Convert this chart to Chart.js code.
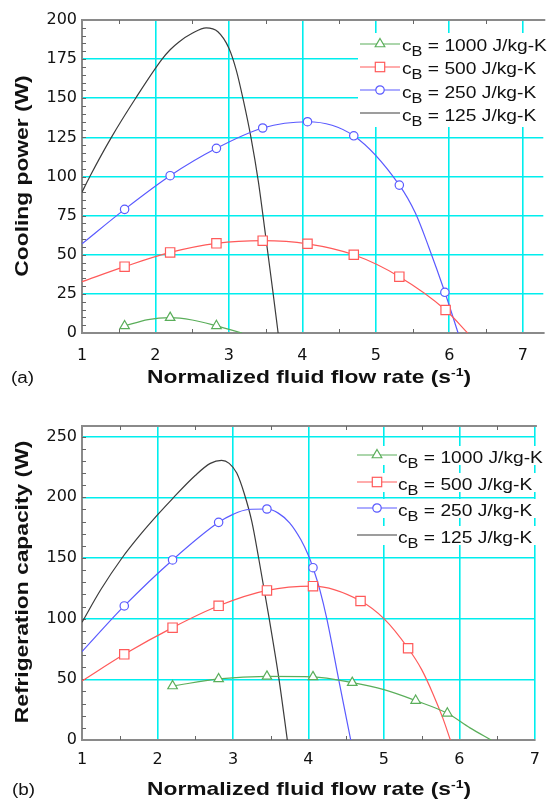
<!DOCTYPE html>
<html>
<head>
<meta charset="utf-8">
<title>Cooling power / refrigeration capacity</title>
<script src="https://cdn.jsdelivr.net/npm/chart.js@4.4.1/dist/chart.umd.min.js"></script>
<style>
body{margin:0;background:#fff;}
#page{position:relative;width:550px;height:800px;overflow:hidden;background:#fff;font-family:"Liberation Sans",Arial,sans-serif;color:#111;}
#page canvas{position:absolute;left:0;}
.xt{position:absolute;font-weight:bold;font-size:19px;line-height:1;white-space:nowrap;transform-origin:0 0;transform:scaleX(1.2);}
.xt sup{font-size:0.62em;vertical-align:0.6em;line-height:0;}
.yt{position:absolute;font-weight:bold;font-size:19px;line-height:1;white-space:nowrap;transform:translate(-50%,-50%) rotate(-90deg) scaleX(1.2);}
.lg{position:absolute;font-size:16.3px;line-height:1;white-space:nowrap;transform-origin:0 0;transform:scaleX(1.18);}
.lg sub{font-size:0.85em;vertical-align:-0.35em;line-height:0;}
.lab{position:absolute;font-size:16px;line-height:1;white-space:nowrap;transform-origin:0 0;transform:scaleX(1.18);}
.box{position:absolute;background:#fff;}
.smp{position:absolute;}
</style>
</head>
<body>
<div id="page">
	<canvas id="chartA" width="550" height="365" style="top:0"></canvas>
	<canvas id="chartB" width="550" height="380" style="top:400px"></canvas>
</div>
<script>
// values

// (a) cooling power (W) vs normalized flow rate
var a_x1000 = [1.58, 1.9, 2.2, 2.5, 2.83, 3.18];
var a_y1000 = [4.5, 8.6, 9.8, 8.3, 4.6, 0];
var a_mk1000 = [0, 2, 4];

var a_x500 = [1, 1.58, 2.2, 2.83, 3.46, 4.07, 4.7, 5.32, 5.95, 6.25];
var a_y500 = [32.8, 42.4, 51.5, 57.3, 59, 57, 50, 36, 14.7, 0];
var a_mk500 = [1, 2, 3, 4, 5, 6, 7, 8];

var a_x250 = [1, 1.58, 2.2, 2.83, 3.46, 4.07, 4.7, 5.32, 5.54, 5.72, 5.94, 6.12];
var a_y250 = [57, 79, 100.5, 118, 131, 135, 126, 94.5, 76.5, 55, 26, 0];
var a_mk250 = [1, 2, 3, 4, 5, 6, 7, 10];

var a_x125 = [1, 1.107, 1.4, 1.73, 2.09, 2.2, 2.32, 2.5, 2.69, 2.85, 3.0, 3.1, 3.2, 3.3, 3.4, 3.5, 3.6, 3.67];
var a_y125 = [90, 100, 125, 150, 175, 181, 186, 191.5, 195, 192.5, 182, 168, 148, 125, 97, 62, 26, 0];
var a_mk125 = [];

// (b) refrigeration capacity (W)
var b_x1000 = [2.2, 2.81, 3.45, 4.06, 4.58, 5.0, 5.42, 5.84, 6.14, 6.42];
var b_y1000 = [44.5, 50.3, 52.4, 52, 47.3, 41.5, 32.5, 22, 10, 0];
var b_mk1000 = [0, 1, 2, 3, 4, 6, 7];

var b_x500 = [1, 1.56, 2.2, 2.81, 3.45, 4.06, 4.69, 5.0, 5.32, 5.5, 5.65, 5.78, 5.88];
var b_y500 = [48.6, 70.6, 92.6, 110.6, 123.3, 126.8, 114.6, 100, 75.6, 58, 38, 18, 0];
var b_mk500 = [1, 2, 3, 4, 5, 6, 8];

var b_x250 = [1, 1.56, 2.2, 2.81, 3.0, 3.2, 3.45, 3.6, 3.75, 3.9, 4.0, 4.06, 4.15, 4.243, 4.4, 4.56];
var b_y250 = [72.8, 110.5, 148.4, 179.4, 186, 190, 190.4, 187, 179, 165, 152, 142, 124, 100, 50, 0];
var b_mk250 = [1, 2, 3, 6, 11];

var b_x125 = [1, 1.25, 1.53, 1.77, 2.0, 2.2, 2.5, 2.7, 2.85, 2.95, 3.05, 3.15, 3.25, 3.34, 3.48, 3.61, 3.72];
var b_y125 = [97, 124, 150, 169, 185.5, 199, 218, 228, 230.5, 228, 220, 203, 180, 150, 100, 50, 0];
var b_mk125 = [];

// axes
var xTicks = [1, 2, 3, 4, 5, 6, 7];
var a_yTicks = [0, 25, 50, 75, 100, 125, 150, 175, 200];
var b_yTicks = [0, 50, 100, 150, 200, 250];
var cB_labels = ['1000', '500', '250', '125'];

var GRID = 'rgb(0,238,238)';
var FRAME = '#8a8a8a';
var styles = [
	{color: '#5aae5a', shape: 'triangle', r: 5.5},
	{color: '#ff5a5a', shape: 'rect', r: 6.6},
	{color: '#5a5aff', shape: 'circle', r: 4.2},
	{color: '#3c3c3c', shape: 'circle', r: 0}
];

var page = document.getElementById('page');

function pts(xs, ys){
	var p = [];
	for(var i = 0;i < xs.length;i++){
		p.push({x: xs[i], y: ys[i]});
	}
	return p;
}

function series(xs, ys, marks, st){
	return {
		data: pts(xs, ys),
		borderColor: st.color,
		borderWidth: 1.2,
		pointStyle: st.shape,
		pointRadius: function(c){ return marks.indexOf(c.dataIndex) >= 0 ? st.r : 0; },
		pointBorderColor: st.color,
		pointBackgroundColor: '#fff',
		pointBorderWidth: 1.2,
		cubicInterpolationMode: 'monotone',
		fill: false
	};
}

// top border + small minor ticks
var frame = {
	id: 'frame',
	beforeDatasetsDraw: function(chart){
		var a = chart.chartArea, ctx = chart.ctx;
		var xs = chart.scales.x, ys = chart.scales.y;
		var m = chart.options.plugins.frame;
		ctx.save();
		ctx.strokeStyle = FRAME;
		ctx.lineWidth = 2;
		ctx.beginPath();
		ctx.moveTo(a.left, a.top);
		ctx.lineTo(a.right + 2, a.top);
		ctx.stroke();
		ctx.strokeStyle = '#666';
		ctx.lineWidth = 1;
		ctx.beginPath();
		for(var v = m.yMinor;v < ys.max;v += m.yMinor){
			var py = Math.round(ys.getPixelForValue(v)) + 0.5;
			ctx.moveTo(a.left, py);
			ctx.lineTo(a.left + 4, py);
		}
		for(var u = 1.5;u < xs.max;u += 1){
			var px = Math.round(xs.getPixelForValue(u)) + 0.5;
			ctx.moveTo(px, a.bottom);
			ctx.lineTo(px, a.bottom - 4);
			ctx.moveTo(px, a.top);
			ctx.lineTo(px, a.top + 4);
		}
		ctx.stroke();
		ctx.restore();
	}
};

function makeChart(id, sets, o){
	return new Chart(document.getElementById(id), {
		type: 'line',
		data: {datasets: sets},
		options: {
			responsive: false,
			animation: false,
			devicePixelRatio: 1,
			layout: {padding: {top: o.padTop, right: 1, left: 0, bottom: 0}},
			plugins: {
				legend: {display: false},
				tooltip: {enabled: false},
				frame: {yMinor: o.yMinor}
			},
			scales: {
				x: {
					type: 'linear',
					min: 1,
					max: o.xMax,
					afterBuildTicks: function(s){ s.ticks = xTicks.map(function(v){ return {value: v}; }); },
					afterFit: function(s){ s.height = o.xH; },
					grid: {color: GRID, lineWidth: 1.6, drawTicks: false, tickLength: 0},
					border: {color: FRAME, width: 2},
					ticks: {font: {family: 'DejaVu Sans', size: 16}, color: '#111', padding: o.xPad, maxRotation: 0, autoSkip: false}
				},
				y: {
					type: 'linear',
					min: 0,
					max: o.yMax,
					afterBuildTicks: function(s){ s.ticks = o.yTicks.map(function(v){ return {value: v}; }); },
					afterFit: function(s){ s.width = 82; },
					grid: {color: GRID, lineWidth: 1.6, drawTicks: false, tickLength: 0},
					border: {color: FRAME, width: 2},
					ticks: {font: {family: 'DejaVu Sans', size: 16}, color: '#111', padding: 5, autoSkip: false}
				}
			}
		},
		plugins: [frame]
	});
}

makeChart('chartA', [
	series(a_x1000, a_y1000, a_mk1000, styles[0]),
	series(a_x500, a_y500, a_mk500, styles[1]),
	series(a_x250, a_y250, a_mk250, styles[2]),
	series(a_x125, a_y125, a_mk125, styles[3])
], {padTop: 20, xH: 32, xPad: 13, xMax: 7.28, yMax: 200, yTicks: a_yTicks, yMinor: 5});

makeChart('chartB', [
	series(b_x1000, b_y1000, b_mk1000, styles[0]),
	series(b_x500, b_y500, b_mk500, styles[1]),
	series(b_x250, b_y250, b_mk250, styles[2]),
	series(b_x125, b_y125, b_mk125, styles[3])
], {padTop: 26, xH: 40, xPad: 10, xMax: 7, yMax: 258.8, yTicks: b_yTicks, yMinor: 10});

// html overlays: titles, panel letters, legends
function addEl(cls, html, left, top){
	var d = document.createElement('div');
	d.className = cls;
	d.innerHTML = html;
	d.style.left = left + 'px';
	d.style.top = top + 'px';
	page.appendChild(d);
	return d;
}

function addBox(left, top, w, h){
	var d = addEl('box', '', left, top);
	d.style.width = w + 'px';
	d.style.height = h + 'px';
}

function addSample(left, cy, st){
	var s = '<svg width="40" height="14" xmlns="http://www.w3.org/2000/svg">';
	s += '<line x1="0" y1="7" x2="40" y2="7" stroke="' + st.color + '" stroke-width="1.2"/>';
	if(st.shape == 'triangle'){
		s += '<polygon points="20,1.5 24.8,9.75 15.2,9.75" fill="#fff" stroke="' + st.color + '" stroke-width="1.2"/>';
	}else if(st.shape == 'rect' && st.r){
		s += '<rect x="15.3" y="2.3" width="9.4" height="9.4" fill="#fff" stroke="' + st.color + '" stroke-width="1.2"/>';
	}else if(st.r){
		s += '<circle cx="20" cy="7" r="4.2" fill="#fff" stroke="' + st.color + '" stroke-width="1.2"/>';
	}
	s += '</svg>';
	addEl('smp', s, left, cy - 7);
}

function addLegend(x0, lineY, textX, textTop, gap, rowBg){
	for(var i = 0;i < cB_labels.length;i++){
		if(rowBg){
			addBox(x0 - 3, lineY + i * gap - 9, 191, 19);
		}
		addSample(x0, lineY + i * gap, styles[i]);
		addEl('lg', 'c<sub>B</sub> = ' + cB_labels[i] + ' J/kg-K', textX, textTop + i * gap);
	}
}

// panel (a)
addBox(358, 33, 188, 94);
addLegend(360, 43.5, 401.5, 37, 23.3, false);
addEl('yt', 'Cooling power (W)', 21, 176);
addEl('xt', 'Normalized fluid flow rate (s<sup>-1</sup>)', 147, 367);
addEl('lab', '(a)', 11, 369.5);

// panel (b)
addLegend(357, 455, 397.5, 449, 26.7, true);
addEl('yt', 'Refrigeration capacity (W)', 21, 582);
addEl('xt', 'Normalized fluid flow rate (s<sup>-1</sup>)', 147, 779);
addEl('lab', '(b)', 12, 781.5);
</script>
</body>
</html>
